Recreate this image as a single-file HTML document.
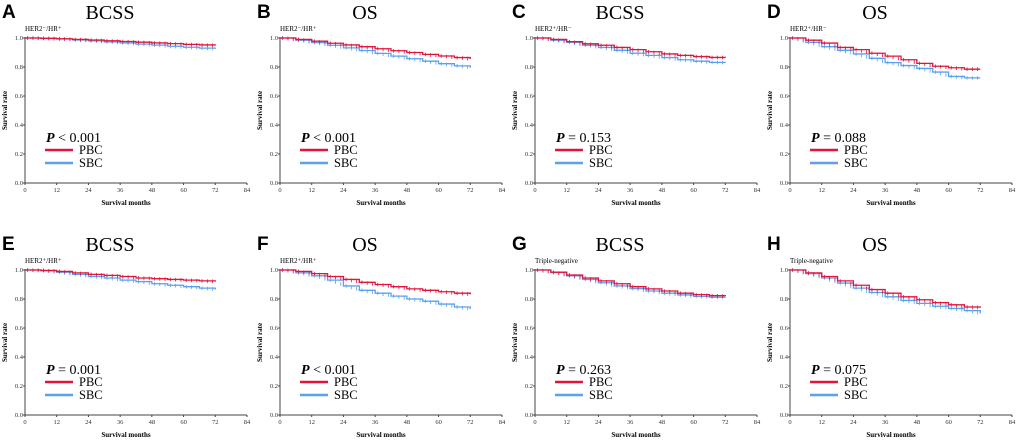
<!DOCTYPE html>
<html><head><meta charset="utf-8"><style>
html,body{margin:0;padding:0;background:#fff;width:1020px;height:440px;overflow:hidden}
svg{display:block}
</style></head><body>
<svg id="c" width="1020" height="440" xmlns="http://www.w3.org/2000/svg"></svg>
<script>
const panelLetters=["A","B","C","D","E","F","G","H"];
const panelTitles=["BCSS","OS","BCSS","OS","BCSS","OS","BCSS","OS"];
const panelSubgroups=["HER2\u207B/HR\u207A","HER2\u207B/HR\u207A","HER2\u207A/HR\u207B","HER2\u207A/HR\u207B","HER2\u207A/HR\u207A","HER2\u207A/HR\u207A","Triple-negative","Triple-negative"];
const pValues=["< 0.001","< 0.001","= 0.153","= 0.088","= 0.001","< 0.001","= 0.263","= 0.075"];
const months=[0,6,12,18,24,30,36,42,48,54,60,66,72];
const pbc=[
[1,.998,.995,.99,.986,.981,.976,.971,.966,.961,.956,.952,.948],
[1,.99,.978,.964,.952,.94,.926,.912,.9,.887,.876,.865,.855],
[1,.99,.975,.96,.95,.935,.92,.905,.89,.88,.872,.866,.865],
[1,.985,.965,.935,.92,.895,.875,.85,.825,.805,.795,.785,.785],
[1,.997,.99,.98,.97,.963,.955,.945,.94,.935,.93,.925,.92],
[1,.99,.975,.955,.935,.915,.9,.885,.87,.86,.85,.84,.832],
[1,.985,.965,.945,.925,.905,.885,.87,.855,.84,.83,.823,.82],
[1,.98,.955,.925,.895,.865,.84,.815,.795,.775,.76,.745,.74]];
const sbc=[
[1,.997,.993,.986,.98,.973,.966,.958,.951,.943,.936,.93,.925],
[1,.985,.968,.95,.932,.914,.894,.875,.857,.84,.823,.808,.795],
[1,.985,.97,.95,.935,.915,.895,.88,.865,.85,.84,.832,.83],
[1,.97,.94,.915,.89,.86,.83,.81,.79,.765,.735,.725,.725],
[1,.995,.985,.97,.955,.945,.93,.92,.905,.895,.885,.875,.865],
[1,.98,.96,.93,.89,.86,.84,.82,.8,.785,.765,.745,.73],
[1,.983,.96,.935,.912,.89,.872,.855,.84,.828,.818,.812,.81],
[1,.975,.945,.91,.875,.845,.815,.79,.77,.75,.735,.72,.7]];
const xTicks=[0,12,24,36,48,60,72,84];
const yTicks=[0,0.2,0.4,0.6,0.8,1.0];

const svg=document.getElementById('c');
const NS="http://www.w3.org/2000/svg";
function mk(tag,attrs,parent){const e=document.createElementNS(NS,tag);for(const k in attrs)e.setAttribute(k,attrs[k]);(parent||svg).appendChild(e);return e;}
const W=222,H=145;
for(let p=0;p<8;p++){
  const col=p%4,row=Math.floor(p/4);
  const ox=25+col*255, oy=183+row*232;
  const sx=m=>ox+m/84*W, sy=v=>oy-v*H;
  const g=mk('g',{});
  
  
  let t=mk('text',{x:ox-23,y:oy-165,'font-family':'Liberation Sans, sans-serif','font-weight':'bold','font-size':'19'},g);t.textContent=panelLetters[p];
  
  t=mk('text',{x:ox+85,y:oy-164,'text-anchor':'middle','font-family':'Liberation Serif, serif','font-size':'20'},g);t.textContent=panelTitles[p];
  
  t=mk('text',{x:ox,y:oy-152,'font-family':'Liberation Serif, serif','font-size':'7'},g);t.textContent=panelSubgroups[p];
  
  const ax=mk('path',{d:`M${ox},${oy-H-1}V${oy}H${ox+W}`,stroke:'#444',fill:'none','stroke-width':'1'},g);
  
  xTicks.forEach(v=>{mk('line',{x1:sx(v),x2:sx(v),y1:oy,y2:oy+2,stroke:'#444'},g);
    const tt=mk('text',{x:sx(v),y:oy+9,'text-anchor':'middle','font-family':'Liberation Serif, serif','font-size':'6.5',fill:'#333'},g);tt.textContent=v;
    });
  yTicks.forEach(v=>{mk('line',{x1:ox-2,x2:ox,y1:sy(v),y2:sy(v),stroke:'#444'},g);
    const tt=mk('text',{x:ox-2,y:sy(v)+2,'text-anchor':'end','font-family':'Liberation Serif, serif','font-size':'6.5',fill:'#333'},g);tt.textContent=v.toFixed(1);
    });
  t=mk('text',{x:ox+W/2-10,y:oy+22,'text-anchor':'middle','font-family':'Liberation Serif, serif','font-weight':'bold','font-size':'7'},g);t.textContent='Survival months';
  
  t=mk('text',{x:0,y:0,'text-anchor':'middle','font-family':'Liberation Serif, serif','font-weight':'bold','font-size':'7',transform:`translate(${ox-18},${oy-H/2}) rotate(-90)`},g);t.textContent='Survival rate';
  
  [[sbc[p],'#5aa0f0','sbc-curve'],[pbc[p],'#e0143c','pbc-curve']].forEach(([vals,c,nm])=>{
    let d=`M${sx(months[0])},${sy(vals[0])}`;
    for(let i=1;i<months.length;i++){d+=`H${sx(months[i])}V${sy(vals[i])}`;}
    d+=`H${sx(72)}`;
    const pa=mk('path',{d:d,stroke:c,fill:'none','stroke-width':'1.3'},g);
    
    let cd='';
    for(let i=1;i<months.length;i++){for(let k=0;k<3;k++){const m=months[i-1]+k*2+1;const x=sx(m),y=sy(vals[i-1]+(vals[i]-vals[i-1])*(k/3));cd+=`M${x},${y-1.8}V${y+1.8}`;}}
    const cm=mk('path',{d:cd,stroke:c,'stroke-width':'0.8',fill:'none'},g);
    
  });
  const lg=mk('g',{},g);
  t=mk('text',{x:ox+21,y:oy-41,'font-family':'Liberation Serif, serif','font-size':'14'},lg);
  const ts=mk('tspan',{'font-weight':'bold','font-style':'italic'},t);ts.textContent='P';
  const ts2=mk('tspan',{},t);ts2.textContent=' '+pValues[p];
  
  mk('line',{x1:ox+20,x2:ox+48,y1:oy-33,y2:oy-33,stroke:'#e0143c','stroke-width':'2.5'},lg);
  t=mk('text',{x:ox+54,y:oy-29,'font-family':'Liberation Serif, serif','font-size':'12.5'},lg);t.textContent='PBC';
  
  mk('line',{x1:ox+20,x2:ox+48,y1:oy-20,y2:oy-20,stroke:'#5aa0f0','stroke-width':'2.5'},lg);
  t=mk('text',{x:ox+54,y:oy-16,'font-family':'Liberation Serif, serif','font-size':'12.5'},lg);t.textContent='SBC';
  
}
</script>
</body></html>
